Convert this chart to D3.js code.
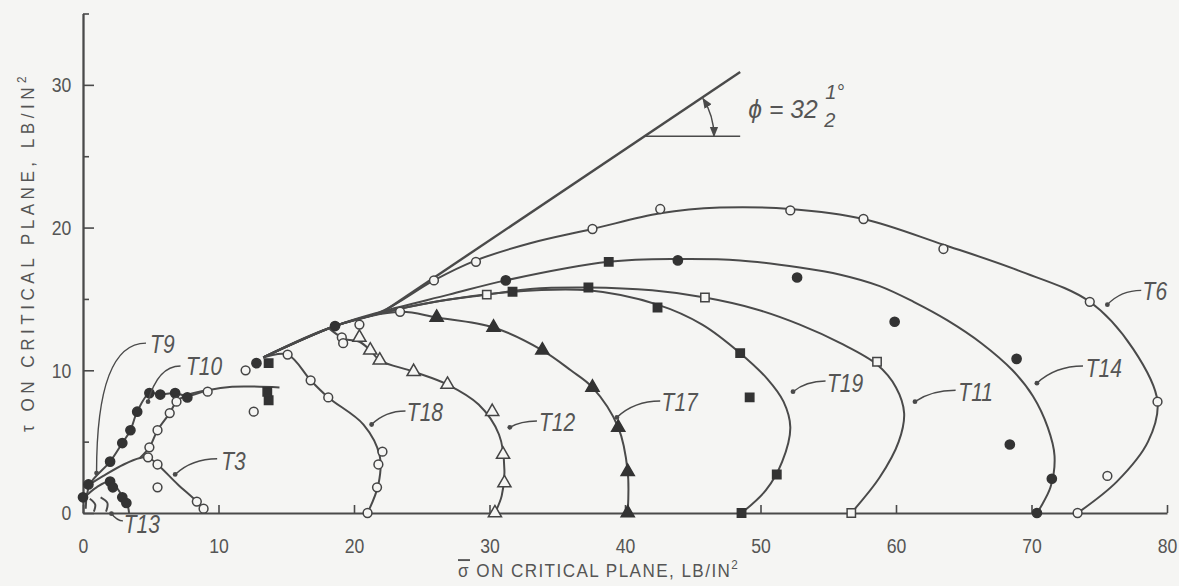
<!DOCTYPE html>
<html>
<head>
<meta charset="utf-8">
<script src="https://cdn.jsdelivr.net/npm/d3@7/dist/d3.min.js"></script>
<style>
  body { margin: 0; background: #f5f5f3; }
  svg text { font-family: "Liberation Sans", Arial, sans-serif; fill: #555; }
</style>
</head>
<body>
<div id="chart"></div>
<script>
let width = 1179
let height = 586

//tick values on the axes
let xTicks = [0, 10, 20, 30, 40, 50, 60, 70, 80]
let yTicks = [0, 10, 20, 30]
let yMinor = [5, 15, 25, 35]

//failure envelope (phi = 32.5 deg) and the horizontal reference for the angle
let envelope = [[22, 14.0], [48.5, 30.9]]
let reference = [[41.4, 26.4], [48.5, 26.4]]

//stress paths, [sigma, tau]
let t6Path = [[13.3, 10.9], [18.6, 13.1], [22, 14.1], [25.9, 16.3], [29, 17.7], [33, 18.9], [37.6, 19.9], [42.6, 21.0], [47, 21.4], [52.2, 21.3], [57.6, 20.6], [63.5, 18.8], [69, 17.0], [74.3, 14.8], [77.5, 11.5], [79.3, 7.8], [78.6, 5.0], [76.3, 2.2], [73.4, 0]]
let t14Path = [[13.3, 10.9], [18.6, 13.1], [22, 14.1], [27, 15.3], [31.2, 16.3], [38.8, 17.6], [43.9, 17.8], [48.5, 17.7], [52.9, 17.2], [55.9, 16.7], [58.8, 15.9], [61.3, 14.8], [63.8, 13.5], [66.3, 11.9], [68.6, 10.0], [70.1, 8.2], [71.2, 6.0], [71.7, 4.0], [71.4, 1.8], [70.4, 0]]
let t11Path = [[13.3, 10.9], [18.6, 13.1], [22, 14.0], [26, 14.8], [29.8, 15.3], [33, 15.7], [37.3, 15.8], [42, 15.6], [45.9, 15.1], [49.6, 14.3], [52.9, 13.2], [55.9, 11.9], [58.6, 10.4], [60.0, 8.8], [60.6, 7.0], [60.2, 5.0], [58.8, 2.5], [56.7, 0]]
let t19Path = [[13.3, 10.9], [18.6, 13.1], [22, 14.0], [26, 14.8], [31.7, 15.5], [37.3, 15.6], [42.4, 14.6], [45.7, 13.2], [48.5, 11.2], [50.5, 9.4], [51.7, 7.8], [52.2, 6.0], [51.6, 3.6], [50.4, 1.6], [48.6, 0]]
let t17Path = [[13.3, 10.9], [18.6, 13.1], [23.4, 14.1], [26.1, 13.7], [30.3, 13.0], [33.9, 11.4], [36.0, 10.0], [37.6, 8.8], [39.5, 6.0], [40.2, 2.9], [40.2, 0]]
let t12Path = [[18.2, 12.9], [19.3, 12.2], [20.4, 12.0], [21.2, 11.4], [21.9, 10.7], [24.4, 9.9], [26.9, 9.0], [29.2, 7.6], [30.7, 5.5], [31.1, 3.0], [30.9, 1.2], [30.4, 0]]
let t18Path = [[13.3, 10.9], [15.1, 11.1], [16.8, 9.3], [18.1, 8.1], [20.7, 6.2], [21.9, 4.0], [21.8, 2.0], [21.0, 0]]
let t10Path = [[0.2, 0.3], [0.5, 2.0], [2.0, 3.6], [2.9, 4.9], [3.5, 5.8], [4.0, 7.1], [4.9, 8.4], [5.7, 8.3], [6.8, 8.4], [7.7, 8.2], [9.2, 8.6], [11, 8.85], [14.5, 8.8]]
let t9Path = [[4.2, 3.85], [4.9, 4.6], [5.5, 5.8], [6.4, 7.0], [6.9, 7.8], [7.8, 8.3], [9.2, 8.6]]
let t3Path = [[0.15, 1.8], [1.5, 2.6], [3.0, 3.4], [4.2, 3.85], [4.8, 3.9], [5.5, 3.4], [7.0, 2.0], [8.4, 0.8], [9.1, 0]]
let t13Path = [[0, 1.0], [1.0, 1.8], [2.0, 2.2], [2.9, 1.2], [3.3, 0.5], [3.4, 0]]
let hookA = [[0.5, 1.0], [0.9, 0.6], [0.8, 0.1]]
let hookB = [[1.3, 1.1], [1.8, 0.7], [1.7, 0.1]]

//test points
let t6Marks = [[25.9, 16.3], [29.0, 17.6], [37.6, 19.9], [42.6, 21.3], [52.2, 21.2], [57.6, 20.6], [63.5, 18.5], [74.3, 14.8], [79.3, 7.8], [75.6, 2.6], [73.4, 0]]
let t14Marks = [[12.8, 10.5], [18.6, 13.1], [31.2, 16.3], [43.9, 17.7], [52.7, 16.5], [59.9, 13.4], [68.9, 10.8], [68.4, 4.8], [71.5, 2.4], [70.4, 0]]
let t11Marks = [[29.8, 15.3], [45.9, 15.1], [58.6, 10.6], [56.7, 0]]
let t19Marks = [[13.7, 10.5], [13.6, 8.5], [13.7, 7.9], [31.7, 15.5], [37.3, 15.8], [38.8, 17.6], [42.4, 14.4], [48.5, 11.2], [49.2, 8.1], [51.2, 2.7], [48.6, 0]]
let t17Marks = [[26.1, 13.7], [30.3, 13.0], [33.9, 11.4], [37.6, 8.8], [39.5, 6.0], [40.2, 2.9], [40.2, 0]]
let t12Marks = [[20.4, 12.3], [21.2, 11.4], [21.9, 10.7], [24.4, 9.9], [26.9, 9.0], [30.2, 7.1], [31.0, 4.1], [31.1, 2.1], [30.4, 0]]
let t18Marks = [[15.1, 11.1], [16.8, 9.3], [18.1, 8.1], [22.1, 4.3], [21.8, 3.4], [21.7, 1.8], [21.0, 0], [19.1, 12.3], [19.2, 11.9], [20.4, 13.2], [23.4, 14.1], [12.0, 10.0], [12.6, 7.1]]
let t10Marks = [[0, 1.1], [0.4, 2.0], [2.0, 3.6], [2.9, 4.9], [3.5, 5.8], [4.0, 7.1], [4.9, 8.4], [5.7, 8.3], [6.8, 8.4], [7.7, 8.1]]
let t9Marks = [[4.9, 4.6], [5.5, 5.8], [6.4, 7.0], [6.9, 7.8], [9.2, 8.5]]
let t3Marks = [[4.8, 3.9], [5.5, 3.4], [8.4, 0.8], [8.9, 0.3], [5.5, 1.8]]
let t13Marks = [[2.0, 2.2], [2.2, 1.8], [2.9, 1.1], [3.2, 0.7]]

//curve labels: text position, leader start and the point it marks
let labels = [
  { t: "T6", at: [78.2, 14.9], from: [78.1, 15.6], to: [75.6, 14.6], k: 0.4 },
  { t: "T14", at: [74.0, 9.5], from: [73.8, 10.3], to: [70.4, 9.1], k: 0.4 },
  { t: "T11", at: [64.6, 7.85], from: [64.4, 8.6], to: [61.4, 7.8], k: 0.4 },
  { t: "T19", at: [54.9, 8.5], from: [54.8, 9.25], to: [52.4, 8.5], k: 0.4 },
  { t: "T17", at: [42.7, 7.15], from: [42.6, 7.85], to: [39.4, 6.7], k: 0.4 },
  { t: "T12", at: [33.65, 5.75], from: [33.5, 6.45], to: [31.5, 6.0], k: 0.4 },
  { t: "T18", at: [23.9, 6.45], from: [23.8, 7.15], to: [21.3, 6.2], k: 0.4 },
  { t: "T10", at: [7.6, 9.7], from: [7.2, 10.3], to: [4.8, 7.8], k: 0.3 },
  { t: "T9", at: [4.95, 11.2], from: [4.65, 11.9], to: [1.0, 2.8], k: 0 },
  { t: "T3", at: [10.2, 3.0], from: [9.9, 3.8], to: [6.8, 2.7], k: 0.4 },
  { t: "T13", at: [3.0, -1.4], from: [2.95, -0.55], to: [2.1, -0.05], k: 0.5 }
]

let ink = "#4a4a4a"
let paper = "#f5f5f3"
let narrow = 0.84   //the original lettering is a condensed face

let svg = d3.select("#chart").append("svg")
  .attr("width", width)
  .attr("height", height)

let xScale = d3.scaleLinear([0, 80], [83, 1167])
let yScale = d3.scaleLinear([0, 35], [513, 13.5])

//axes, ticks point inward
let xAxis = d3.axisBottom(xScale).tickValues(xTicks).tickSizeInner(-8).tickSizeOuter(0).tickPadding(25)
svg.append("g").attr("transform", "translate(0," + yScale(0) + ")").call(xAxis)

let yAxis = d3.axisLeft(yScale).tickValues(yTicks).tickSizeInner(-11).tickSizeOuter(0).tickPadding(14)
svg.append("g").attr("transform", "translate(" + xScale(0) + ",0)").call(yAxis)

let yMinorAxis = d3.axisLeft(yScale).tickValues(yMinor).tickSizeInner(-6).tickSizeOuter(0).tickFormat("")
svg.append("g").attr("transform", "translate(" + xScale(0) + ",0)").call(yMinorAxis)

svg.selectAll(".domain").attr("stroke", ink).attr("stroke-width", 1.8)
svg.selectAll(".tick line").attr("stroke", ink).attr("stroke-width", 1.6)
svg.selectAll(".tick text")
  .attr("font-size", 21)
  .attr("fill", "#555")
  .attr("font-family", "Liberation Sans, Arial, sans-serif")
  .attr("transform", "scale(" + narrow + ",1)")

//axis titles
let xt = svg.append("g").attr("transform", "translate(458,577) scale(0.9,1)")
  .append("text")
  .attr("font-size", 19).attr("letter-spacing", 1.6)
xt.append("tspan").text("σ").style("text-decoration", "overline")
xt.append("tspan").text(" ON CRITICAL PLANE, LB/IN")
xt.append("tspan").text("2").attr("font-size", 13).attr("dy", -8)

let yt = svg.append("g").attr("transform", "translate(34,252) rotate(-90) scale(0.9,1)")
  .append("text")
  .attr("text-anchor", "middle")
  .attr("font-size", 19).attr("letter-spacing", 5)
yt.append("tspan").text("τ ON CRITICAL PLANE, LB/IN")
yt.append("tspan").text("2").attr("font-size", 13).attr("dy", -8)

let line = d3.line()
  .x(d => xScale(d[0]))
  .y(d => yScale(d[1]))
  .curve(d3.curveCatmullRom.alpha(0.5))

let straight = d3.line().x(d => xScale(d[0])).y(d => yScale(d[1]))

let paths = [t6Path, t14Path, t11Path, t19Path, t17Path, t12Path, t18Path, t10Path, t9Path, t3Path, t13Path, hookA, hookB]
svg.selectAll(".path")
  .data(paths)
  .enter()
  .append("path")
  .attr("d", d => line(d))
  .attr("fill", "none")
  .attr("stroke", ink)
  .attr("stroke-width", 2)

svg.selectAll(".env")
  .data([envelope, reference])
  .enter()
  .append("path")
  .attr("d", d => straight(d))
  .attr("fill", "none")
  .attr("stroke", ink)
  .attr("stroke-width", (d, i) => i == 0 ? 2.4 : 1.6)

//angle arc with arrowheads at both ends
svg.append("defs").append("marker")
  .attr("id", "arrow")
  .attr("viewBox", "0 0 10 10")
  .attr("refX", 9).attr("refY", 5)
  .attr("markerWidth", 7).attr("markerHeight", 7)
  .attr("orient", "auto-start-reverse")
  .append("path")
  .attr("d", "M0,1 L10,5 L0,9 Z")
  .attr("fill", ink)

let vx = xScale(reference[0][0])
let vy = yScale(reference[0][1])
let r = 70
let ang = 32.5 * Math.PI / 180
svg.append("path")
  .attr("d", "M" + (vx + r * Math.cos(ang)) + "," + (vy - r * Math.sin(ang)) +
    " A" + r + "," + r + " 0 0 1 " + (vx + r) + "," + vy)
  .attr("fill", "none")
  .attr("stroke", ink)
  .attr("stroke-width", 1.5)
  .attr("marker-start", "url(#arrow)")
  .attr("marker-end", "url(#arrow)")

//phi label
let phi = svg.append("g")
  .attr("transform", "translate(" + xScale(49.1) + "," + yScale(27.7) + ") scale(0.95,1)")
  .style("font-style", "italic")
phi.append("text").attr("x", 0).attr("y", 0).attr("font-size", 26).text("ϕ = 32")
phi.append("text").attr("x", 81).attr("y", -19).attr("font-size", 21).text("1°")
phi.append("text").attr("x", 80).attr("y", 9).attr("font-size", 21).text("2")

//test point symbols
function drawMarks(pts, kind) {
  let g = svg.append("g")
  let filled = kind.startsWith("filled")
  let fill = filled ? "#333" : paper
  let stroke = filled ? "#333" : "#444"
  if (kind.endsWith("Circle")) {
    g.selectAll("circle").data(pts).enter().append("circle")
      .attr("cx", d => xScale(d[0])).attr("cy", d => yScale(d[1]))
      .attr("r", filled ? 4.6 : 4.4)
      .attr("fill", fill).attr("stroke", stroke).attr("stroke-width", 1.5)
  } else {
    let sq = kind.endsWith("Square")
    let sym = d3.symbol(sq ? d3.symbolSquare : d3.symbolTriangle, sq ? 70 : 75)
    g.selectAll("path").data(pts).enter().append("path")
      .attr("d", sym)
      .attr("transform", d => "translate(" + xScale(d[0]) + "," + yScale(d[1]) + ")")
      .attr("fill", fill).attr("stroke", stroke).attr("stroke-width", 1.5)
  }
}

drawMarks(t6Marks, "openCircle")
drawMarks(t14Marks, "filledCircle")
drawMarks(t11Marks, "openSquare")
drawMarks(t19Marks, "filledSquare")
drawMarks(t17Marks, "filledTriangle")
drawMarks(t12Marks, "openTriangle")
drawMarks(t18Marks, "openCircle")
drawMarks(t10Marks, "filledCircle")
drawMarks(t9Marks, "openCircle")
drawMarks(t3Marks, "openCircle")
drawMarks(t13Marks, "filledCircle")

//leaders and curve names
let lg = svg.selectAll(".lab")
  .data(labels)
  .enter()
  .append("g")

lg.append("path")
  .attr("d", d => {
    let fx = xScale(d.from[0]), fy = yScale(d.from[1])
    let tx = xScale(d.to[0]), ty = yScale(d.to[1])
    let cx = tx + (fx - tx) * d.k
    return "M" + fx + "," + fy + " Q" + cx + "," + fy + " " + tx + "," + ty
  })
  .attr("fill", "none")
  .attr("stroke", ink)
  .attr("stroke-width", 1.4)

lg.append("circle")
  .attr("cx", d => xScale(d.to[0]))
  .attr("cy", d => yScale(d.to[1]))
  .attr("r", 2.4)
  .attr("fill", ink)

lg.append("g")
  .attr("transform", d => "translate(" + xScale(d.at[0]) + "," + yScale(d.at[1]) + ") scale(" + narrow + ",1)")
  .append("text")
  .attr("font-size", 25)
  .style("font-style", "italic")
  .text(d => d.t)
</script>
</body>
</html>
